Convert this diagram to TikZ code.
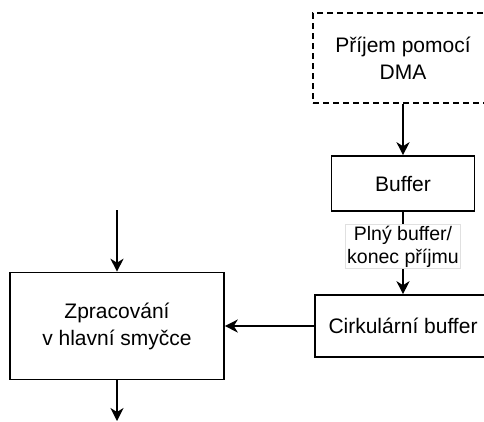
\documentclass[tikz,border=0pt]{standalone}
\usepackage{fontspec}
\setmainfont{Liberation Sans}
\usetikzlibrary{arrows.meta}

\tikzset{
  box/.style={draw, line width=1.6pt, inner sep=0pt, align=center,
    font=\fontsize{21}{27}\selectfont},
  dmabox/.style={box, dash pattern=on 6pt off 4pt},
  lbl/.style={fill=white, draw=black!12, line width=0.5pt, inner sep=1.5pt,
    align=center, font=\fontsize{19.5}{23}\selectfont},
  arr/.style={line width=1.6pt, -{Stealth[length=13pt, width=13pt, inset=4pt]}}
}

\begin{document}
\begin{tikzpicture}[x=1pt, y=-1pt]
\clip (0,0) rectangle (484,421);

\node[dmabox, minimum width=180pt, minimum height=90pt] (dma) at (403,58) {Příjem pomocí\\DMA};
\node[box, minimum width=143pt, minimum height=55pt] (buf) at (403,183.5) {Buffer};
\node[box, minimum width=176pt, minimum height=62pt] (circ) at (403,326) {Cirkulární buffer};
\node[box, minimum width=214pt, minimum height=107pt] (proc) at (117,326) {Zpracování\\v hlavní smyčce};

\coordinate (in) at (117,210);
\coordinate (out) at (117,421);

\draw[arr] (dma) -- (buf);
\draw[arr] (buf) -- node[lbl, pos=0.42] (full) {Plný buffer/\\konec příjmu} (circ);
\draw[arr] (circ.west) -- (proc.east);
\draw[arr] (in) -- (proc.north);
\draw[arr] (proc.south) -- (out);

\end{tikzpicture}
\end{document}
